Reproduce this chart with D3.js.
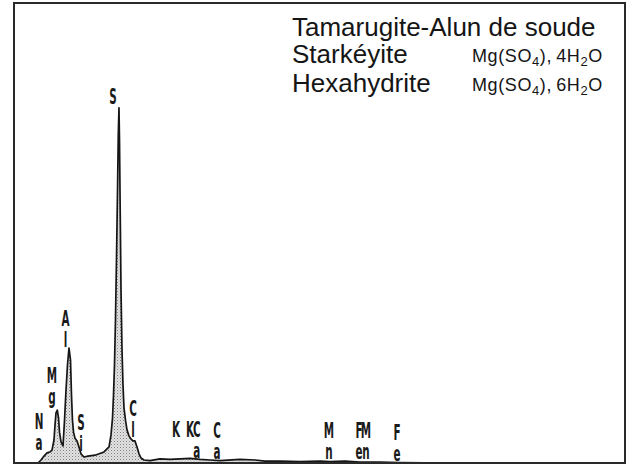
<!DOCTYPE html>
<html>
<head>
<meta charset="utf-8">
<script src="https://cdn.jsdelivr.net/npm/d3@7/dist/d3.min.js"></script>
<style>
  html, body { margin: 0; padding: 0; background: #fff; }
  svg { display: block; }
</style>
</head>
<body>
<svg id="chart" width="633" height="466"></svg>
<script>
// EDS spectrum: energy (keV) and counts
const energy = [0.912, 0.964, 1.016, 1.067, 1.119, 1.153, 1.187, 1.205, 1.222, 1.244,
  1.265, 1.282, 1.308, 1.342, 1.368, 1.394, 1.419, 1.445, 1.471, 1.488,
  1.505, 1.523, 1.548, 1.583, 1.617, 1.651, 1.703, 1.772, 1.892, 2.047,
  2.133, 2.167, 2.193, 2.210, 2.227, 2.244, 2.261, 2.279, 2.292, 2.304,
  2.313, 2.325, 2.339, 2.356, 2.373, 2.390, 2.416, 2.442, 2.476, 2.511,
  2.545, 2.579, 2.614, 2.648, 2.682, 2.734, 2.837, 3.009, 3.181, 3.353,
  3.525, 3.696, 3.868, 4.040, 4.384, 4.642, 4.813, 5.071, 5.415, 5.759,
  5.930, 6.188, 6.446, 6.790, 7.133, 7.993, 8.852, 10.98];
const counts = [0, 6.5, 15, 22, 24, 28, 50, 83, 109, 115,
  98, 67, 46, 37, 93, 159, 213, 250, 224, 148,
  93, 67, 54, 48, 35, 20, 13, 15, 17, 24,
  35, 61, 98, 148, 213, 311, 441, 593, 713, 772,
  702, 550, 376, 246, 170, 120, 93, 72, 59, 52,
  48, 48, 35, 20, 11, 6.5, 5, 9, 8, 9,
  10, 8, 6.5, 5, 8, 6.5, 4, 4, 3, 4,
  3, 4, 2, 2, 1, 0, 0, 0];

// Peak identifications: stacked letters, line energy (keV), label height (counts)
const peakTop    = ["N", "M", "A", "S", "S", "C", "K", "K", "C", "C", "M", "F", "M", "F"];
const peakBottom = ["a", "g", "l", "i", "",  "l", "",  "",  "a", "a", "n", "e", "n", "e"];
const peakEnergy = [0.930, 1.153, 1.385, 1.651, 2.201, 2.545, 3.284, 3.525, 3.640, 3.989, 5.913, 6.430, 6.549, 7.082];
const peakLevel  = [74, 174, 298, 72, 780, 102, 57, 57, 57, 54, 54, 54, 54, 50];

// Sample identification
const titleLines = ["Tamarugite-Alun de soude", "Starkéyite", "Hexahydrite"];
const formulaWater = ["", "4", "6"];

const svg = d3.select("#chart");
const x = d3.scaleLinear().domain([0.5, 11]).range([14, 625]);
const y = d3.scaleLinear().domain([0, 1000]).range([463, 3]);

// stipple fill for the spectrum
const defs = svg.append("defs");
const pat = defs.append("pattern")
  .attr("id", "stipple").attr("patternUnits", "userSpaceOnUse")
  .attr("width", 3).attr("height", 3);
pat.append("rect").attr("width", 3).attr("height", 3).attr("fill", "#e2e2e2");
pat.append("rect").attr("x", 0).attr("y", 0).attr("width", 1).attr("height", 1).attr("fill", "#808080");
pat.append("rect").attr("x", 1.5).attr("y", 1.5).attr("width", 1).attr("height", 1).attr("fill", "#aaaaaa");

const data = energy.map((e, i) => ({ e, c: counts[i] }));

svg.append("path")
  .datum(data)
  .attr("fill", "url(#stipple)")
  .attr("d", d3.area().x(d => x(d.e)).y0(y(0)).y1(d => y(d.c)));

svg.append("path")
  .datum(data)
  .attr("fill", "none")
  .attr("stroke", "#151515")
  .attr("stroke-width", 1.7)
  .attr("stroke-linejoin", "round")
  .attr("d", d3.line().x(d => x(d.e)).y(d => y(d.c)));

// frame
svg.append("rect")
  .attr("x", x(0.5)).attr("y", y(1000))
  .attr("width", x(11) - x(0.5)).attr("height", y(0) - y(1000))
  .attr("fill", "none").attr("stroke", "#2a2a2a").attr("stroke-width", 2);

// peak labels, letters stacked vertically
const lab = svg.append("g")
  .attr("font-family", "'DejaVu Sans Condensed', 'DejaVu Sans', sans-serif")
  .attr("font-weight", "bold")
  .attr("font-size", 21)
  .attr("fill", "#1a1a1a");

peakTop.forEach((t, i) => {
  const g = lab.append("g")
    .attr("transform", `translate(${x(peakEnergy[i])},${y(peakLevel[i])}) scale(0.55,1)`);
  g.append("text").attr("text-anchor", "middle").text(t);
  if (peakBottom[i]) {
    g.append("text").attr("text-anchor", "middle").attr("y", 21).text(peakBottom[i]);
  }
});

// sample names and formulas
const head = svg.append("g")
  .attr("font-family", "'Liberation Sans', Arial, sans-serif")
  .attr("fill", "#151515");

const lineY = [36, 63, 92];
titleLines.forEach((t, i) => {
  head.append("text").attr("x", 292).attr("y", lineY[i])
    .attr("font-size", 26).text(t);
  if (formulaWater[i]) {
    const f = head.append("text").attr("x", 472).attr("y", lineY[i] - 1)
      .attr("font-size", 18).attr("letter-spacing", 0.6);
    f.append("tspan").text("Mg(SO");
    f.append("tspan").attr("font-size", 13).attr("dy", 4).text("4");
    f.append("tspan").attr("dy", -4).text(")," + "\u2009" + formulaWater[i] + "H");
    f.append("tspan").attr("font-size", 13).attr("dy", 4).text("2");
    f.append("tspan").attr("dy", -4).text("O");
  }
});
</script>
</body>
</html>
